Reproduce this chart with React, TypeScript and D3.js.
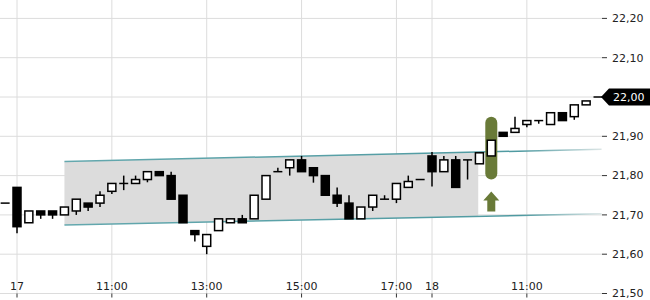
import React, { useEffect } from "react";
import * as d3 from "d3";

// 15-minute candles, index -1 = previous close, 0..34 = day 17 (09:00-17:30), 35..49 = day 18 (09:00-12:30)
const idx: number[] = d3.range(-1, 50);
const open: number[] = [21.73, 21.77, 21.68, 21.71, 21.71, 21.70, 21.71, 21.73, 21.73, 21.76, 21.78, 21.78, 21.79, 21.81, 21.80, 21.75, 21.66, 21.62, 21.66, 21.68, 21.69, 21.69, 21.74, 21.81, 21.82, 21.84, 21.82, 21.80, 21.75, 21.73, 21.69, 21.72, 21.74, 21.74, 21.77, 21.79, 21.85, 21.81, 21.84, 21.84, 21.83, 21.85, 21.91, 21.91, 21.93, 21.94, 21.93, 21.96, 21.95, 21.98, 22.00];
const high: number[] = [21.73, 21.77, 21.71, 21.71, 21.71, 21.72, 21.74, 21.73, 21.76, 21.78, 21.80, 21.80, 21.81, 21.81, 21.81, 21.75, 21.66, 21.65, 21.69, 21.69, 21.70, 21.75, 21.80, 21.82, 21.84, 21.85, 21.82, 21.80, 21.77, 21.75, 21.72, 21.75, 21.75, 21.78, 21.80, 21.79, 21.86, 21.85, 21.85, 21.84, 21.858, 21.89, 21.91, 21.95, 21.94, 21.94, 21.96, 21.96, 21.98, 21.99, 22.00];
const low: number[] = [21.73, 21.653, 21.68, 21.69, 21.69, 21.70, 21.70, 21.71, 21.72, 21.753, 21.763, 21.78, 21.783, 21.80, 21.74, 21.68, 21.632, 21.60, 21.66, 21.68, 21.68, 21.69, 21.74, 21.81, 21.80, 21.81, 21.782, 21.75, 21.72, 21.69, 21.69, 21.71, 21.74, 21.73, 21.77, 21.79, 21.772, 21.81, 21.77, 21.79, 21.83, 21.85, 21.90, 21.91, 21.923, 21.932, 21.93, 21.94, 21.942, 21.98, 22.00];
const close: number[] = [21.73, 21.67, 21.71, 21.70, 21.70, 21.72, 21.74, 21.72, 21.75, 21.78, 21.78, 21.79, 21.81, 21.80, 21.74, 21.68, 21.65, 21.65, 21.69, 21.69, 21.68, 21.75, 21.80, 21.81, 21.84, 21.81, 21.80, 21.75, 21.73, 21.69, 21.72, 21.75, 21.74, 21.78, 21.785, 21.79, 21.81, 21.84, 21.77, 21.84, 21.858, 21.89, 21.90, 21.92, 21.94, 21.94, 21.96, 21.94, 21.98, 21.99, 22.00];

const xTickIdx: number[] = [0, 8, 16, 24, 32, 35, 43];
const xTickLabels: string[] = ["17", "11:00", "13:00", "15:00", "17:00", "18", "11:00"];
const yTicks: number[] = [21.5, 21.6, 21.7, 21.8, 21.9, 22.0, 22.1, 22.2];
const lastPrice = 22.0;

// trend channel
const channelIdx: number[] = [4, 49.3];
const channelTop: number[] = [21.836, 21.867];
const channelBottom: number[] = [21.674, 21.703];
const channelFillEndIdx = 38.9;

// signal
const signalIdx = 40;
const signalRange: number[] = [21.79, 21.95];

const fmt = (v: number) => v.toFixed(2).replace(".", ",");

export default function App() {
  useEffect(() => {
    document.body.style.margin = "0";
  }, []);

  const W = 650, H = 300;
  const x = d3.scaleLinear().domain([0, 49]).range([17, 598]);
  const y = d3.scaleLinear().domain([21.5, 22.2]).range([293.5, 18.4]);
  const plotRight = 602;
  const bodyW = 8;
  const font = "'DejaVu Sans', sans-serif";

  const topLine = d3.scaleLinear().domain(channelIdx).range(channelTop);
  const botLine = d3.scaleLinear().domain(channelIdx).range(channelBottom);
  const fillPts: [number, number][] = [
    [x(channelIdx[0]), y(topLine(channelIdx[0]))],
    [x(channelFillEndIdx), y(topLine(channelFillEndIdx))],
    [x(channelFillEndIdx), y(botLine(channelFillEndIdx))],
    [x(channelIdx[0]), y(botLine(channelIdx[0]))],
  ];
  const lineGen = d3.line();

  const sx = x(signalIdx);
  const arrowTop = y(signalRange[0]) + 12;
  const ly = y(lastPrice);

  return (
    <svg width={W} height={H} style={{ display: "block", position: "fixed", left: 0, top: 0 }} fontFamily={font}>
      <defs>
        <linearGradient id="chan" gradientUnits="userSpaceOnUse" x1={x(channelIdx[0])} x2={x(channelIdx[1])} y1={0} y2={0}>
          <stop offset="0%" stopColor="#64a8ae" />
          <stop offset="85%" stopColor="#4f9aa1" />
          <stop offset="100%" stopColor="#dde6e6" />
        </linearGradient>
      </defs>
      <rect width={W} height={H} fill="#fff" />
      {/* grid */}
      {yTicks.map((t) => (
        <line key={"gy" + t} x1={0} x2={plotRight} y1={y(t)} y2={y(t)} stroke="#dcdcdc" strokeWidth={1} />
      ))}
      {xTickIdx.map((i, k) => (
        <line key={"gx" + k} x1={x(i)} x2={x(i)} y1={0} y2={y(21.5)} stroke="#dcdcdc" strokeWidth={1} />
      ))}
      {/* channel */}
      <path d={lineGen(fillPts) + "Z"} fill="#dcdcdc" />
      <line x1={x(channelIdx[0])} x2={x(channelIdx[1])} y1={y(channelTop[0])} y2={y(channelTop[1])} stroke="url(#chan)" strokeWidth={1.5} />
      <line x1={x(channelIdx[0])} x2={x(channelIdx[1])} y1={y(channelBottom[0])} y2={y(channelBottom[1])} stroke="url(#chan)" strokeWidth={1.5} />
      {/* signal highlight */}
      <rect x={sx - 6} y={y(signalRange[1])} width={12} height={y(signalRange[0]) - y(signalRange[1])} rx={6} fill="#697a38" />
      <path
        d={`M${sx},${arrowTop} L${sx + 8},${arrowTop + 9} L${sx + 4},${arrowTop + 9} L${sx + 4},${arrowTop + 20} L${sx - 4},${arrowTop + 20} L${sx - 4},${arrowTop + 9} L${sx - 8},${arrowTop + 9} Z`}
        fill="#697a38"
      />
      {/* candles */}
      {idx.map((i, k) => {
        const cx = x(i);
        const o = open[k], c = close[k], h = high[k], l = low[k];
        const yt = y(Math.max(o, c)), yb = y(Math.min(o, c));
        const up = c > o;
        const doji = Math.abs(c - o) < 1e-9;
        return (
          <g key={"c" + i}>
            <line x1={cx} x2={cx} y1={y(h)} y2={y(l)} stroke="#000" strokeWidth={1.5} />
            {doji ? (
              <line x1={cx - bodyW / 2 - 0.5} x2={cx + bodyW / 2 + 0.5} y1={yt} y2={yt} stroke="#000" strokeWidth={1.5} />
            ) : (
              <rect x={cx - bodyW / 2} y={yt} width={bodyW} height={Math.max(1, yb - yt)} fill={up ? "#fff" : "#000"} stroke="#000" strokeWidth={1.5} />
            )}
          </g>
        );
      })}
      {/* right axis */}
      {yTicks.map((t) => (
        <g key={"yt" + t}>
          <line x1={602} x2={607} y1={y(t)} y2={y(t)} stroke="#333" strokeWidth={1} />
          <text x={612} y={y(t)} dy="0.35em" fontSize={11} fill="#222">{fmt(t)}</text>
        </g>
      ))}
      {/* bottom axis */}
      {xTickIdx.map((i, k) => (
        <g key={"xt" + k}>
          <line x1={x(i)} x2={x(i)} y1={y(21.5)} y2={y(21.5) + 4} stroke="#333" strokeWidth={1} />
          <text x={x(i)} y={290} textAnchor="middle" fontSize={11} fill="#222">{xTickLabels[k]}</text>
        </g>
      ))}
      {/* last price tag */}
      <path d={`M601,${ly} L609,${ly - 8.5} L650,${ly - 8.5} L650,${ly + 8.5} L609,${ly + 8.5} Z`} fill="#000" />
      <text x={613} y={ly} dy="0.35em" fontSize={11} fill="#fff">{fmt(lastPrice)}</text>
    </svg>
  );
}
